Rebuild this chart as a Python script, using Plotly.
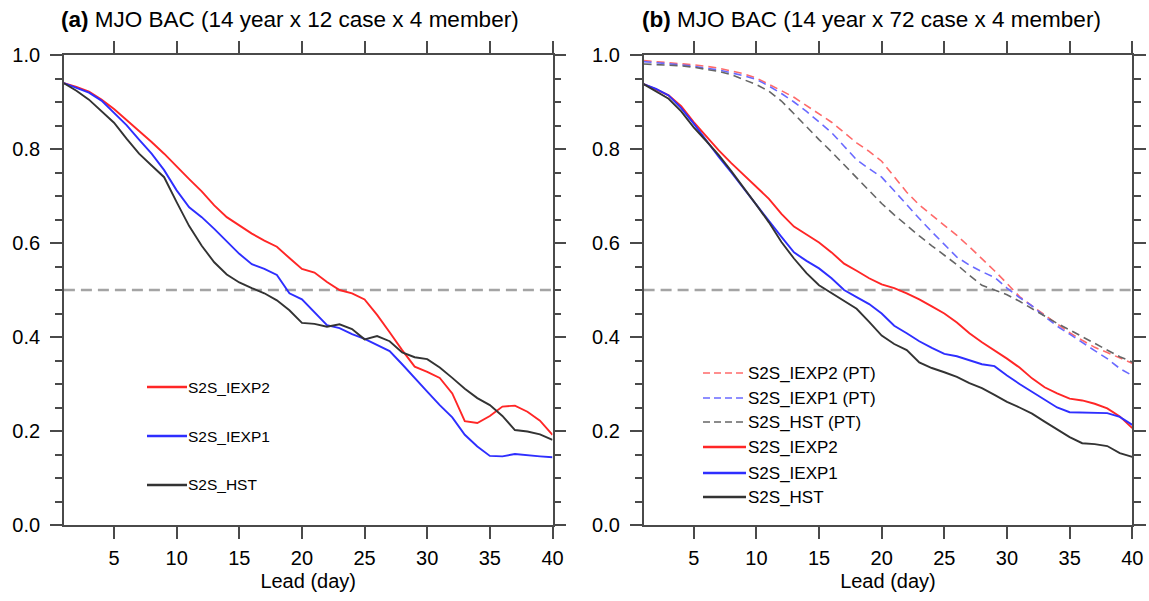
import plotly.graph_objects as go

days = list(range(1, 41))

# Panel (a): 14 year x 12 case x 4 member
a_iexp2 = [0.940, 0.932, 0.922, 0.905, 0.885, 0.862, 0.840, 0.815, 0.790, 0.762,
           0.736, 0.710, 0.680, 0.655, 0.638, 0.620, 0.605, 0.592, 0.568, 0.545,
           0.537, 0.517, 0.500, 0.493, 0.480, 0.447, 0.410, 0.372, 0.337, 0.326,
           0.313, 0.280, 0.221, 0.217, 0.232, 0.252, 0.254, 0.241, 0.222, 0.192]
a_iexp1 = [0.940, 0.930, 0.920, 0.903, 0.878, 0.851, 0.820, 0.790, 0.755, 0.712,
           0.676, 0.655, 0.630, 0.603, 0.577, 0.555, 0.545, 0.532, 0.493, 0.480,
           0.453, 0.425, 0.419, 0.406, 0.396, 0.383, 0.370, 0.342, 0.312, 0.284,
           0.255, 0.229, 0.192, 0.167, 0.147, 0.146, 0.151, 0.148, 0.146, 0.144]
a_hst = [0.940, 0.924, 0.905, 0.881, 0.856, 0.822, 0.790, 0.765, 0.740, 0.687,
         0.636, 0.594, 0.559, 0.533, 0.516, 0.504, 0.493, 0.478, 0.457, 0.430,
         0.428, 0.422, 0.427, 0.417, 0.395, 0.402, 0.391, 0.367, 0.357, 0.353,
         0.335, 0.313, 0.290, 0.270, 0.255, 0.232, 0.202, 0.199, 0.193, 0.181]

# Panel (b): 14 year x 72 case x 4 member
b_iexp2_pt = [0.988, 0.986, 0.984, 0.982, 0.979, 0.976, 0.972, 0.966, 0.960, 0.951,
              0.938, 0.924, 0.910, 0.892, 0.874, 0.857, 0.835, 0.813, 0.795, 0.774,
              0.741, 0.708, 0.681, 0.660, 0.639, 0.616, 0.592, 0.567, 0.541, 0.514,
              0.486, 0.466, 0.447, 0.428, 0.409, 0.393, 0.378, 0.367, 0.355, 0.344]
b_iexp1_pt = [0.986, 0.984, 0.982, 0.979, 0.976, 0.972, 0.968, 0.962, 0.956, 0.948,
              0.934, 0.918, 0.900, 0.880, 0.858, 0.835, 0.806, 0.777, 0.758, 0.740,
              0.711, 0.681, 0.652, 0.624, 0.597, 0.570, 0.553, 0.539, 0.527, 0.504,
              0.484, 0.466, 0.444, 0.423, 0.406, 0.388, 0.371, 0.354, 0.333, 0.318]
b_hst_pt = [0.981, 0.980, 0.979, 0.977, 0.974, 0.970, 0.965, 0.958, 0.948, 0.937,
            0.923, 0.902, 0.875, 0.847, 0.820, 0.794, 0.767, 0.740, 0.712, 0.684,
            0.660, 0.637, 0.615, 0.594, 0.574, 0.554, 0.531, 0.510, 0.500, 0.490,
            0.476, 0.460, 0.445, 0.429, 0.415, 0.401, 0.386, 0.372, 0.358, 0.347]
b_iexp2 = [0.938, 0.927, 0.914, 0.891, 0.857, 0.827, 0.797, 0.770, 0.744, 0.720,
           0.694, 0.662, 0.635, 0.618, 0.601, 0.580, 0.556, 0.541, 0.525, 0.512,
           0.504, 0.493, 0.480, 0.465, 0.450, 0.431, 0.408, 0.389, 0.372, 0.354,
           0.335, 0.312, 0.293, 0.280, 0.269, 0.265, 0.258, 0.248, 0.231, 0.206]
b_iexp1 = [0.938, 0.928, 0.914, 0.887, 0.854, 0.818, 0.783, 0.750, 0.715, 0.680,
           0.647, 0.613, 0.580, 0.562, 0.546, 0.525, 0.500, 0.485, 0.470, 0.450,
           0.424, 0.408, 0.391, 0.377, 0.364, 0.359, 0.350, 0.342, 0.338, 0.318,
           0.300, 0.283, 0.266, 0.250, 0.240, 0.239, 0.239, 0.238, 0.230, 0.213]
b_hst = [0.938, 0.923, 0.907, 0.880, 0.846, 0.817, 0.787, 0.753, 0.718, 0.681,
         0.644, 0.602, 0.567, 0.536, 0.510, 0.493, 0.477, 0.460, 0.432, 0.403,
         0.385, 0.372, 0.346, 0.334, 0.325, 0.315, 0.302, 0.291, 0.277, 0.262,
         0.250, 0.237, 0.220, 0.203, 0.187, 0.174, 0.172, 0.168, 0.153, 0.145]

x_tick0, x_dtick = 5, 5
y_tick0, y_dtick, y_minor = 0, 0.2, 0.05
titles = ["<b>(a)</b> MJO BAC (14 year x 12 case x 4 member)",
          "<b>(b)</b> MJO BAC (14 year x 72 case x 4 member)"]
x_title = "Lead (day)"

RED, BLUE, BLACK = "#ff2626", "#2e2eff", "#333333"
RED_PT, BLUE_PT, BLACK_PT = "#ff6a6a", "#6a6aff", "#666666"
FONT = "Liberation Sans, Arial, sans-serif"

W, H = 1149, 601
fig = go.Figure()

panel_a = [("S2S_IEXP2", a_iexp2, RED, "solid"),
           ("S2S_IEXP1", a_iexp1, BLUE, "solid"),
           ("S2S_HST", a_hst, BLACK, "solid")]
panel_b = [("S2S_IEXP2 (PT)", b_iexp2_pt, RED_PT, "8px,5px"),
           ("S2S_IEXP1 (PT)", b_iexp1_pt, BLUE_PT, "8px,5px"),
           ("S2S_HST (PT)", b_hst_pt, BLACK_PT, "8px,5px"),
           ("S2S_IEXP2", b_iexp2, RED, "solid"),
           ("S2S_IEXP1", b_iexp1, BLUE, "solid"),
           ("S2S_HST", b_hst, BLACK, "solid")]

for name, vals, col, dash in panel_a:
    fig.add_trace(go.Scatter(x=days, y=vals, mode="lines", name=name,
                             line=dict(color=col, width=1.9, dash=dash),
                             xaxis="x", yaxis="y", showlegend=False))
for name, vals, col, dash in panel_b:
    fig.add_trace(go.Scatter(x=days, y=vals, mode="lines", name=name,
                             line=dict(color=col, width=1.9 if dash == "solid" else 1.6, dash=dash),
                             xaxis="x2", yaxis="y2", showlegend=False))

def px_x(p):
    return p / W

def px_y(p):
    return 1 - p / H

dom_a = [px_x(63.9), px_x(552.5)]
dom_b = [px_x(643.6), px_x(1132.3)]
dom_y = [px_y(525), px_y(55)]

AXCOL = "#4a4a4a"
xcommon = dict(range=[1, 40], tickmode="linear", tick0=x_tick0, dtick=x_dtick,
               ticks="outside", ticklen=12, tickwidth=1.5, automargin=False,
               tickcolor=AXCOL, showline=True, linecolor=AXCOL, linewidth=1.5, mirror="allticks",
               showgrid=False, zeroline=False, tickfont=dict(size=20, color="black", family=FONT),
               ticklabelstandoff=2,
               title=dict(text=x_title, font=dict(size=20, color="black", family=FONT), standoff=6))
ycommon = dict(range=[0, 1], tickmode="linear", tick0=y_tick0, dtick=y_dtick, tickformat=".1f",
               ticks="outside", ticklen=12, automargin=False,
               tickwidth=1.5, tickcolor=AXCOL, showline=True, linecolor=AXCOL, linewidth=1.5,
               mirror="allticks", showgrid=False, zeroline=False,
               tickfont=dict(size=20, color="black", family=FONT), ticklabelstandoff=6,
               minor=dict(tickmode="linear", tick0=0, dtick=y_minor, ticks="outside",
                          ticklen=7, tickwidth=1.5, tickcolor=AXCOL, showgrid=False))

fig.update_layout(
    template="none",
    width=W, height=H, margin=dict(l=0, r=0, t=0, b=0, pad=0, autoexpand=False),
    paper_bgcolor="white", plot_bgcolor="white",
    font=dict(family=FONT, color="black"),
    xaxis=dict(domain=dom_a, anchor="y", **xcommon),
    yaxis=dict(domain=dom_y, anchor="x", **ycommon),
    xaxis2=dict(domain=dom_b, anchor="y2", **xcommon),
    yaxis2=dict(domain=dom_y, anchor="x2", **ycommon),
)

# 0.5 reference lines
for xr, yr in [("x", "y"), ("x2", "y2")]:
    fig.add_shape(type="line", xref=xr + " domain", yref=yr, x0=0, x1=1, y0=0.5, y1=0.5,
                  line=dict(color="#a4a4a4", width=2.6, dash="11px,6px"), layer="below")

# titles
for i, t in enumerate(titles):
    fig.add_annotation(text=t, xref="paper", yref="paper", x=px_x([59, 640][i]), y=px_y(20),
                       xanchor="left", yanchor="middle", showarrow=False,
                       font=dict(size=22.5, color="black", family=FONT))

# legend (a)
leg_a_y = [387, 436, 485]
for (name, vals, col, dash), yy in zip(panel_a, leg_a_y):
    fig.add_shape(type="line", xref="paper", yref="paper", x0=px_x(147), x1=px_x(187),
                  y0=px_y(yy), y1=px_y(yy), line=dict(color=col, width=2.5))
    fig.add_annotation(text=name, xref="paper", yref="paper", x=px_x(186), y=px_y(yy),
                       xanchor="left", yanchor="middle", showarrow=False,
                       font=dict(size=15.5, color="black", family=FONT))

# legend (b)
leg_b_y = [373, 398, 422, 447, 473, 497]
for (name, vals, col, dash), yy in zip(panel_b, leg_b_y):
    fig.add_shape(type="line", xref="paper", yref="paper", x0=px_x(703), x1=px_x(746),
                  y0=px_y(yy), y1=px_y(yy),
                  line=dict(color=col, width=2.5 if dash == "solid" else 1.5,
                            dash="solid" if dash == "solid" else "7px,4px"))
    fig.add_annotation(text=name, xref="paper", yref="paper", x=px_x(746), y=px_y(yy),
                       xanchor="left", yanchor="middle", showarrow=False,
                       font=dict(size=17, color="black", family=FONT))

fig.write_html("out.html")
